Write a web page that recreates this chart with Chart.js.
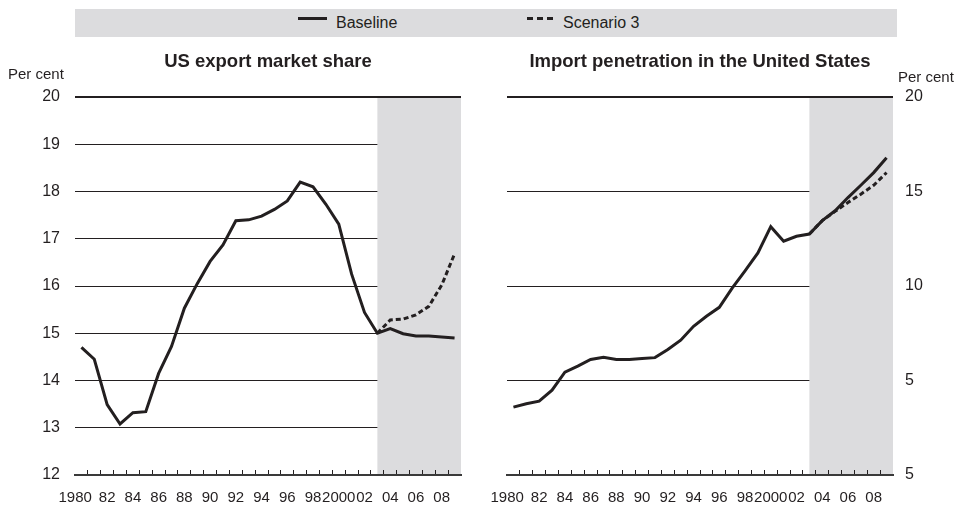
<!DOCTYPE html>
<html>
<head>
<meta charset="utf-8">
<script src="https://cdn.jsdelivr.net/npm/chart.js@4.4.1/dist/chart.umd.min.js"></script>
<style>
  body { margin: 0; background: #fff; font-family: 'Liberation Sans', Arial, sans-serif; color: #231f20; }
  #wrap { position: relative; width: 972px; height: 507px; overflow: hidden; }
  canvas { position: absolute; top: 0; }
  #legend { position: absolute; left: 75px; top: 9px; width: 822px; height: 28px; background: #dcdcde; }
  .item { position: absolute; top: 5px; font-size: 16px; line-height: 18px; }
  .solid { position: absolute; top: 8px; width: 29px; height: 3px; background: #231f20; }
  .dash { position: absolute; top: 8px; width: 26px; height: 3px;
          background: repeating-linear-gradient(90deg, #231f20 0 6px, transparent 6px 10px); }
  .title { position: absolute; top: 50px; font-size: 18.5px; font-weight: bold; white-space: nowrap; transform: translateX(-50%); }
  .unit { position: absolute; top: 65px; font-size: 15px; }
</style>
</head>
<body>
<div id="wrap">
  <canvas id="chart-export" width="486" height="507" style="left:0"></canvas>
  <canvas id="chart-import" width="486" height="507" style="left:486px"></canvas>
  <div id="legend">
    <span class="solid" style="left:223px"></span><span class="item" style="left:261px">Baseline</span>
    <span class="dash" style="left:452px"></span><span class="item" style="left:488px">Scenario 3</span>
  </div>
  <div class="title" style="left:268px">US export market share</div>
  <div class="title" style="left:700px">Import penetration in the United States</div>
  <div class="unit" style="left:8px">Per cent</div>
  <div class="unit" style="left:898px; top:68px">Per cent</div>
</div>
<script>
var years = [1980,1981,1982,1983,1984,1985,1986,1987,1988,1989,1990,1991,1992,1993,1994,
             1995,1996,1997,1998,1999,2000,2001,2002,2003,2004,2005,2006,2007,2008,2009];
var xTickLabels = ['1980','','82','','84','','86','','88','','90','','92','','94','',
                   '96','','98','','2000','','02','','04','','06','','08',''];
var projectionStart = 2003;

var exportBaseline = [14.70,14.45,13.49,13.08,13.32,13.34,14.15,14.72,15.53,16.05,16.52,16.87,17.38,17.40,17.48,
                      17.62,17.80,18.20,18.10,17.73,17.31,16.25,15.44,15.00,15.10,14.99,14.94,14.94,14.92,14.90];
var exportScenario3 = [null,null,null,null,null,null,null,null,null,null,null,null,null,null,null,
                       null,null,null,null,null,null,null,null,15.00,15.28,15.30,15.39,15.57,16.02,16.68];
var exportTicks = [12,13,14,15,16,17,18,19,20];

var importBaseline = [3.59,3.77,3.91,4.49,5.44,5.76,6.11,6.23,6.11,6.11,6.16,6.21,6.64,7.13,7.87,
                      8.40,8.87,9.89,10.80,11.75,13.14,12.37,12.63,12.75,13.46,13.98,14.68,15.33,16.00,16.79];
var importScenario3 = [null,null,null,null,null,null,null,null,null,null,null,null,null,null,null,
                       null,null,null,null,null,null,null,null,12.75,13.46,13.95,14.42,14.86,15.33,16.00];
var importTickValues = [0,5,10,15,20];
var importTickLabels = ['5','5','10','15','20'];

Chart.defaults.font.family = "'Liberation Sans', Arial, sans-serif";
Chart.defaults.color = '#231f20';

var shadePlugin = {
    id: 'shade',
    beforeDatasetsDraw: function(chart) {
        var area = chart.chartArea;
        var left = chart.scales.x.getPixelForValue(years.indexOf(projectionStart));
        var ctx = chart.ctx;
        ctx.save();
        ctx.fillStyle = '#dcdcde';
        ctx.fillRect(left, area.top + 1, area.right - left, area.bottom - area.top - 1);
        ctx.restore();
    }
};

function makeChart(id, baseline, scenario, yOpts, padding, yWidth) {
    return new Chart(document.getElementById(id), {
        type: 'line',
        data: {
            labels: years,
            datasets: [{
                label: 'Baseline',
                data: baseline,
                borderColor: '#231f20',
                borderWidth: 3,
                pointRadius: 0,
                tension: 0
            }, {
                label: 'Scenario 3',
                data: scenario,
                borderColor: '#231f20',
                borderWidth: 3,
                borderDash: [5, 3],
                pointRadius: 0,
                tension: 0,
                spanGaps: false
            }]
        },
        options: {
            responsive: false,
            animation: false,
            layout: { padding: padding },
            plugins: { legend: { display: false }, tooltip: { enabled: false } },
            scales: {
                x: {
                    type: 'category',
                    offset: true,
                    afterFit: function(scale) {
                        scale.height = 32;
                        scale.paddingLeft = 0;
                        scale.paddingRight = 0;
                    },
                    grid: {
                        offset: true,
                        drawOnChartArea: false,
                        drawTicks: true,
                        tickLength: -5,
                        z: 1,
                        color: function(ctx) { return ctx.index > 0 ? '#231f20' : 'rgba(0,0,0,0)'; },
                        lineWidth: 1
                    },
                    border: { display: true, color: '#3a3a3a', width: 2, z: 1 },
                    ticks: {
                        autoSkip: false,
                        maxRotation: 0,
                        padding: 19,
                        font: { size: 15 },
                        callback: function(v, i) { return i === 0 ? xTickLabels[i] + '   ' : xTickLabels[i]; }
                    }
                },
                y: Object.assign({
                    afterFit: function(scale) { scale.width = yWidth; },
                    border: { display: false },
                    grid: {
                        drawTicks: false,
                        color: '#231f20',
                        lineWidth: function(ctx) { return ctx.tick && ctx.tick.value === 20 ? 2 : 1; }
                    }
                }, yOpts)
            }
        },
        plugins: [shadePlugin]
    });
}

window.exportChart = makeChart('chart-export', exportBaseline, exportScenario3, {
    position: 'left',
    min: 12,
    max: 20,
    afterBuildTicks: function(scale) { scale.ticks = exportTicks.map(function(v) { return { value: v }; }); },
    ticks: { padding: 15, font: { size: 16 } }
}, { top: 97, right: 25, bottom: 0, left: 0 }, 75);

window.importChart = makeChart('chart-import', importBaseline, importScenario3, {
    position: 'right',
    min: 0,
    max: 20,
    afterBuildTicks: function(scale) { scale.ticks = importTickValues.map(function(v) { return { value: v }; }); },
    ticks: {
        padding: 12,
        font: { size: 16 },
        callback: function(v) { return importTickLabels[importTickValues.indexOf(v)]; }
    }
}, { top: 97, right: 0, bottom: 0, left: 21 }, 79);
</script>
</body>
</html>
